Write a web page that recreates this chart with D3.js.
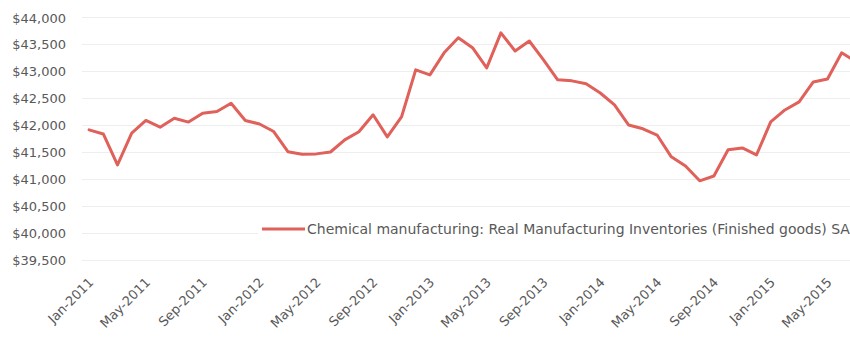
<!DOCTYPE html>
<html>
<head>
<meta charset="utf-8">
<script src="https://cdn.jsdelivr.net/npm/d3@7"></script>
<style>
  html, body { margin: 0; padding: 0; background: #fff; }
  svg { display: block; }
  text { font-family: "DejaVu Sans", sans-serif; fill: #595959; }
</style>
</head>
<body>
<svg id="chart" width="850" height="339"></svg>
<script>
// Monthly categories, Jan-2011 .. Jul-2015
const months = [
  "Jan-2011","Feb-2011","Mar-2011","Apr-2011","May-2011","Jun-2011","Jul-2011","Aug-2011","Sep-2011","Oct-2011","Nov-2011","Dec-2011",
  "Jan-2012","Feb-2012","Mar-2012","Apr-2012","May-2012","Jun-2012","Jul-2012","Aug-2012","Sep-2012","Oct-2012","Nov-2012","Dec-2012",
  "Jan-2013","Feb-2013","Mar-2013","Apr-2013","May-2013","Jun-2013","Jul-2013","Aug-2013","Sep-2013","Oct-2013","Nov-2013","Dec-2013",
  "Jan-2014","Feb-2014","Mar-2014","Apr-2014","May-2014","Jun-2014","Jul-2014","Aug-2014","Sep-2014","Oct-2014","Nov-2014","Dec-2014",
  "Jan-2015","Feb-2015","Mar-2015","Apr-2015","May-2015","Jun-2015","Jul-2015"
];

// Real inventories of finished goods, chemical manufacturing ($)
const inventories = [
  41905, 41830, 41255, 41845, 42080, 41955, 42120, 42050, 42215, 42245, 42400, 42080,
  42015, 41875, 41500, 41455, 41460, 41495, 41720, 41870, 42185, 41775, 42145, 43020,
  42925, 43335, 43615, 43430, 43055, 43705, 43370, 43555, 43205, 42835, 42815, 42760,
  42590, 42370, 41995, 41925, 41810, 41405, 41235, 40960, 41050, 41535, 41570, 41440,
  42055, 42275, 42425, 42795, 42850, 43335, 43170
];

// Labelled months on the category axis
const xTickLabels = [
  "Jan-2011","May-2011","Sep-2011","Jan-2012","May-2012","Sep-2012","Jan-2013",
  "May-2013","Sep-2013","Jan-2014","May-2014","Sep-2014","Jan-2015","May-2015"
];

// Value axis ticks
const yTicks = [39500, 40000, 40500, 41000, 41500, 42000, 42500, 43000, 43500, 44000];

const seriesName = "Chemical manufacturing: Real Manufacturing Inventories (Finished goods) SA";

const svg = d3.select("#chart");

const plotLeft = 82;
const step = 14.2;

const x = d3.scaleBand()
  .domain(months)
  .range([plotLeft, plotLeft + months.length * step])
  .padding(0);
const xc = d => x(d) + x.bandwidth() / 2;

const y = d3.scaleLinear()
  .domain([39500, 44000])
  .range([259.5, 17]);

// Horizontal gridlines
svg.append("g")
  .selectAll("line")
  .data(yTicks)
  .join("line")
  .attr("x1", plotLeft)
  .attr("x2", 850)
  .attr("y1", d => Math.round(y(d)) + 0.5)
  .attr("y2", d => Math.round(y(d)) + 0.5)
  .attr("stroke", "#eeeeee")
  .attr("stroke-width", 1);

// Value axis labels
const fmt = d3.format("$,");
svg.append("g")
  .selectAll("text")
  .data(yTicks)
  .join("text")
  .attr("x", 66)
  .attr("y", d => y(d) + 1)
  .attr("dy", "0.35em")
  .attr("text-anchor", "end")
  .style("font-size", "13px")
  .text(d => fmt(d));

// Category axis labels, rotated
svg.append("g")
  .selectAll("text")
  .data(xTickLabels)
  .join("text")
  .attr("text-anchor", "end")
  .attr("dy", "0.35em")
  .attr("transform", d => `translate(${xc(d) + 2},${280}) rotate(-45)`)
  .style("font-size", "13px")
  .text(d => d);

// Series line
const line = d3.line()
  .x((d, i) => xc(months[i]))
  .y(d => y(d));

svg.append("path")
  .datum(inventories)
  .attr("fill", "none")
  .attr("stroke", "#e0605a")
  .attr("stroke-width", 3)
  .attr("stroke-linejoin", "round")
  .attr("stroke-linecap", "round")
  .attr("d", line);

// Legend
const legend = svg.append("g");
legend.append("rect")
  .attr("x", 258).attr("y", 219)
  .attr("width", 600).attr("height", 20)
  .attr("fill", "#fff");
legend.append("line")
  .attr("x1", 262).attr("x2", 305)
  .attr("y1", 229).attr("y2", 229)
  .attr("stroke", "#e0605a")
  .attr("stroke-width", 3);
legend.append("text")
  .attr("x", 307)
  .attr("y", 229)
  .attr("dy", "0.35em")
  .style("font-size", "14px")
  .text(seriesName);
</script>
</body>
</html>
